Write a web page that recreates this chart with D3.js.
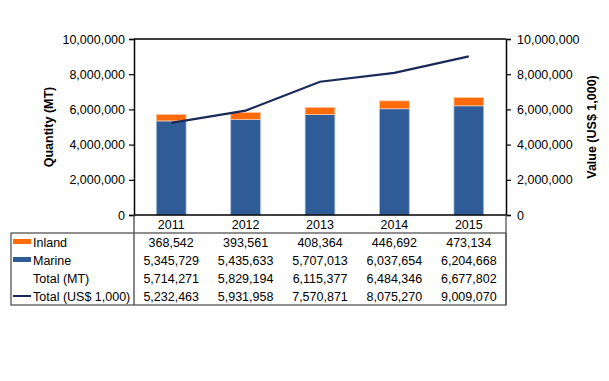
<!DOCTYPE html>
<html>
<head>
<meta charset="utf-8">
<script src="https://cdn.jsdelivr.net/npm/d3@7/dist/d3.min.js"></script>
<style>
html,body{margin:0;padding:0;background:#fff;}
svg{display:block;font-family:"Liberation Sans",Arial,sans-serif;}
</style>
</head>
<body>
<svg id="chart" width="609" height="381"></svg>
<script>
const years = ["2011","2012","2013","2014","2015"];
const inland = [368542, 393561, 408364, 446692, 473134];
const marine = [5345729, 5435633, 5707013, 6037654, 6204668];
const totalMT = [5714271, 5829194, 6115377, 6484346, 6677802];
const totalUSD = [5232463, 5931958, 7570871, 8075270, 9009070];
const yTicks = [0, 2000000, 4000000, 6000000, 8000000, 10000000];
const rowLabels = ["Inland", "Marine", "Total (MT)", "Total (US$ 1,000)"];

const C_ORANGE = "#FF6A0A", C_BLUE = "#2F5B97", C_LINE = "#1A2A57";
const FS = 12.5;
const svg = d3.select("#chart");
const L = 134, R = 506, T = 39, B = 215;
const tabL = 11, tabTop = 233, rowH = 18;

const x = d3.scaleBand().domain(years).range([L, R]).paddingInner(0.6).paddingOuter(0.3);
const xc = d3.scaleBand().domain(years).range([L, R]);
const yL = d3.scaleLinear().domain([0, 10000000]).range([B, T]);
const yR = d3.scaleLinear().domain([0, 10000000]).range([B, T]);
const fmt = d3.format(",");

// bars
const g = svg.append("g");
years.forEach((yr, i) => {
  g.append("rect").attr("x", x(yr)).attr("width", x.bandwidth())
    .attr("y", yL(marine[i])).attr("height", yL(0) - yL(marine[i]))
    .attr("fill", C_BLUE).attr("stroke", "#A9C1E3").attr("stroke-width", 0.8);
  g.append("rect").attr("x", x(yr)).attr("width", x.bandwidth())
    .attr("y", yL(marine[i] + inland[i])).attr("height", yL(marine[i]) - yL(marine[i] + inland[i]))
    .attr("fill", C_ORANGE).attr("stroke", "#FFC9A0").attr("stroke-width", 0.8);
});

// line
const line = d3.line().x((d, i) => xc(years[i]) + xc.bandwidth() / 2).y(d => yR(d));
svg.append("path").datum(totalUSD).attr("d", line)
  .attr("fill", "none").attr("stroke", C_LINE).attr("stroke-width", 2.2);

// axes
const axL = svg.append("g").attr("transform", `translate(${L},0)`)
  .call(d3.axisLeft(yL).tickValues(yTicks).tickFormat(fmt).tickSizeOuter(0).tickSize(5));
const axR = svg.append("g").attr("transform", `translate(${R},0)`)
  .call(d3.axisRight(yR).tickValues(yTicks).tickFormat(fmt).tickSizeOuter(0).tickSize(5));
[axL, axR].forEach(a => {
  a.select(".domain").attr("stroke", "#000").attr("stroke-width", 1.5);
  a.selectAll(".tick line").attr("stroke", "#000").attr("stroke-width", 1.2);
  a.selectAll("text").attr("font-size", FS).attr("fill", "#000")
    .attr("font-family", "Liberation Sans, Arial, sans-serif");
});
axL.selectAll("text").attr("x", -9);
axR.selectAll("text").attr("x", 11);
// top border
svg.append("line").attr("x1", L).attr("x2", R).attr("y1", T).attr("y2", T)
  .attr("stroke", "#000").attr("stroke-width", 1.5);
// bottom axis
svg.append("line").attr("x1", L).attr("x2", R).attr("y1", B).attr("y2", B)
  .attr("stroke", "#000").attr("stroke-width", 1.5);

// axis titles
svg.append("text").attr("transform", `translate(53,${(T + B) / 2}) rotate(-90)`)
  .attr("text-anchor", "middle").attr("font-size", FS).attr("font-weight", "bold")
  .attr("fill", "#000").text("Quantity (MT)");
svg.append("text").attr("transform", `translate(596,${(T + B) / 2}) rotate(-90)`)
  .attr("text-anchor", "middle").attr("font-size", FS).attr("font-weight", "bold")
  .attr("fill", "#000").text("Value (US$ 1,000)");

// year labels
years.forEach(yr => {
  svg.append("text").attr("x", xc(yr) + xc.bandwidth() / 2).attr("y", 228.5)
    .attr("text-anchor", "middle").attr("font-size", FS).attr("fill", "#000").text(yr);
});

// table lines
const tabBottom = tabTop + rowH * 4;
svg.append("line").attr("x1", L).attr("x2", L).attr("y1", B).attr("y2", tabBottom)
  .attr("stroke", "#444").attr("stroke-width", 1.3);
svg.append("line").attr("x1", R).attr("x2", R).attr("y1", B).attr("y2", tabBottom)
  .attr("stroke", "#555").attr("stroke-width", 1.3);
svg.append("rect").attr("x", tabL).attr("y", tabTop).attr("width", R - tabL).attr("height", tabBottom - tabTop)
  .attr("fill", "none").attr("stroke", "#555").attr("stroke-width", 1.3);

// table rows
const rows = [inland, marine, totalMT, totalUSD];
rows.forEach((vals, r) => {
  const cy = tabTop + rowH * r + rowH / 2;
  svg.append("text").attr("x", 33).attr("y", cy + 4.5).attr("font-size", FS)
    .attr("fill", "#000").text(rowLabels[r]);
  vals.forEach((v, i) => {
    svg.append("text").attr("x", xc(years[i]) + xc.bandwidth() / 2).attr("y", cy + 4.5)
      .attr("text-anchor", "middle").attr("font-size", FS).attr("fill", "#000").text(fmt(v));
  });
});
// legend keys
const k0 = tabTop + rowH / 2;
svg.append("rect").attr("x", 13).attr("y", k0 - 3).attr("width", 18).attr("height", 5).attr("fill", C_ORANGE);
svg.append("rect").attr("x", 13).attr("y", k0 + rowH - 3).attr("width", 18).attr("height", 5).attr("fill", C_BLUE);
svg.append("line").attr("x1", 13).attr("x2", 31).attr("y1", k0 + rowH * 3).attr("y2", k0 + rowH * 3)
  .attr("stroke", C_LINE).attr("stroke-width", 2);
</script>
</body>
</html>
